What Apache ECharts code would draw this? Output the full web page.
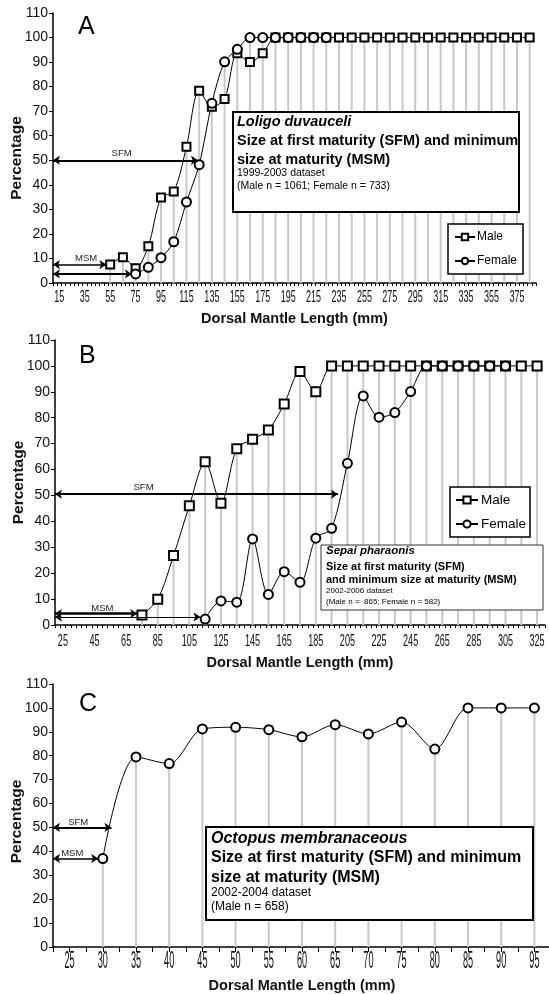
<!DOCTYPE html>
<html>
<head>
<meta charset="utf-8">
<script src="https://cdn.jsdelivr.net/npm/echarts@6/dist/echarts.min.js"></script>
<style>
  html, body { margin: 0; padding: 0; background: #fff; }
  #chart { width: 549px; height: 994px; }
</style>
</head>
<body>
<div id="chart"></div>
<script>
var FONT = "'Liberation Sans', Arial, sans-serif";

// A - Loligo duvauceli (DML mm, % mature)
var aLengths = [55, 65, 75, 85, 95, 105, 115, 125, 135, 145, 155, 165, 175, 185, 195, 205, 215, 225, 235, 245,
  255, 265, 275, 285, 295, 305, 315, 325, 335, 345, 355, 365, 375, 385];
var aMale = [7.5, 10.5, 6, 15, 34.8, 37.3, 55.5, 78.3, 71.8, 75, 93.6, 90, 93.6, 100, 100, 100, 100, 100, 100, 100,
  100, 100, 100, 100, 100, 100, 100, 100, 100, 100, 100, 100, 100, 100];
var aFemale = [null, null, 3.7, 6.4, 10.3, 16.8, 33, 48.2, 73.2, 90.1, 95.2, 100, 100, 100, 100, 100, 100, 100, null, null,
  null, null, null, null, null, null, null, null, null, null, null, null, null, null];
var aTicks = [15, 35, 55, 75, 95, 115, 135, 155, 175, 195, 215, 235, 255, 275, 295, 315, 335, 355, 375];

// B - Sepia pharaonis
var bLengths = [75, 85, 95, 105, 115, 125, 135, 145, 155, 165, 175, 185, 195, 205, 215, 225, 235, 245, 255, 265,
  275, 285, 295, 305, 315, 325];
var bMale = [3.9, 9.9, 26.8, 46, 63, 47, 68, 71.7, 75.3, 85.3, 97.8, 90, 100, 100, 100, 100, 100, 100, 100, 100,
  100, 100, 100, 100, 100, 100];
var bFemale = [null, null, null, null, 2.3, 9.3, 8.8, 33.2, 11.8, 20.6, 16.5, 33.5, 37.3, 62.4, 88.4, 80.2, 82, 90.1, 100, 100,
  100, 100, 100, 100, null, null];
var bTicks = [25, 45, 65, 85, 105, 125, 145, 165, 185, 205, 225, 245, 265, 285, 305, 325];

// C - Octopus membranaceous (males only)
var cLengths = [30, 35, 40, 45, 50, 55, 60, 65, 70, 75, 80, 85, 90, 95];
var cMale = [37, 79.5, 76.7, 91.2, 91.9, 90.9, 87.9, 93, 89.1, 94.1, 82.8, 100, 100, 100];
var cTicks = [25, 30, 35, 40, 45, 50, 55, 60, 65, 70, 75, 80, 85, 90, 95];

// SFM / MSM arrows: [y, x end, width] ; labels: [x, y, text]
var aArrows = [[50, 124, 2], [7.5, 52, 1.5], [3.7, 72, 2]];
var aNotes = [[64, 52.8, 'SFM'], [36, 10, 'MSM']];
var bArrows = [[50.5, 199, 2], [4.4, 72, 2.5], [3.1, 112, 1.2]];
var bNotes = [[76, 53, 'SFM'], [50, 6.6, 'MSM']];
var cArrows = [[50, 31.3, 2], [37, 29.3, 1.5]];
var cNotes = [[26.3, 52, 'SFM'], [25.4, 39.2, 'MSM']];

var chart = echarts.init(document.getElementById('chart'));

function pairs(xs, ys) {
  return xs.map(function (x, i) { return [x, ys[i]]; }).filter(function (p) { return p[1] != null; });
}
function drops(xs, a, b) {
  return xs.map(function (x, i) { return [x, Math.max(a[i] || 0, b ? (b[i] || 0) : 0)]; });
}

function dropSeries(idx, data) {
  return { type: 'bar', xAxisIndex: idx, yAxisIndex: idx, data: data, barWidth: 2, silent: true, z: 1,
    itemStyle: { color: '#c8c8c8' } };
}

function lineSeries(idx, name, symbol, size, data, arrows, notes, xmin) {
  var s = { type: 'line', name: name, xAxisIndex: idx, yAxisIndex: idx, data: data, smooth: 0.3,
    symbol: symbol, symbolSize: size, z: 3,
    itemStyle: { color: '#000', borderColor: '#000', borderWidth: 1.1 },
    lineStyle: { color: '#000', width: 1 } };
  if (arrows) {
    s.markLine = { silent: true, symbol: ['arrow', 'arrow'], symbolSize: 7, label: { show: false },
      lineStyle: { color: '#000', type: 'solid', width: 2 },
      data: arrows.map(function (r) {
        return [{ coord: [xmin, r[0]], lineStyle: { width: r[2] } }, { coord: [r[1], r[0]], lineStyle: { width: r[2] } }];
      }) };
    s.markPoint = { silent: true, symbol: 'circle', symbolSize: 1, itemStyle: { color: 'rgba(0,0,0,0)' },
      label: { show: true, position: 'inside', fontSize: 9.5, fontFamily: FONT, color: '#222',
        formatter: function (p) { return p.name; } },
      data: notes.map(function (n) { return { name: n[2], coord: [n[0], n[1]] }; }) };
  }
  return s;
}

function tickLabels(idx, ticks, size, sx, dy) {
  return { type: 'custom', xAxisIndex: idx, yAxisIndex: idx, silent: true, clip: false, z: 5,
    data: ticks.map(function (t) { return [t, 0]; }),
    renderItem: function (params, api) {
      var p = api.coord([api.value(0), 0]);
      return { type: 'text', x: p[0], y: p[1] + dy, scaleX: sx,
        style: { text: String(api.value(0)), fontSize: size, fontFamily: FONT, fill: '#111',
          align: 'center', verticalAlign: 'middle' } };
    } };
}

function xAxis(idx, min, max, interval, split, gap) {
  return { type: 'value', gridIndex: idx, min: min, max: max, interval: interval,
    axisLine: { lineStyle: { color: '#000', width: 1.5 } },
    axisTick: { length: split ? 3 : 5, lineStyle: { color: '#000', width: 1 } },
    minorTick: { show: !!split, splitNumber: split || 1, length: 3, lineStyle: { color: '#000', width: 1 } },
    axisLabel: { show: false }, splitLine: { show: false },
    name: 'Dorsal Mantle Length (mm)', nameLocation: 'middle', nameGap: gap, nameMoveOverlap: false,
    nameTextStyle: { fontSize: 14.5, fontWeight: 'bold', fontFamily: FONT, color: '#111' } };
}

function yAxis(idx, pad) {
  return { type: 'value', gridIndex: idx, min: 0, max: 110, interval: 10,
    axisLine: { show: true, lineStyle: { color: '#000', width: 1.5 } },
    axisTick: { show: true, length: 4, lineStyle: { color: '#000', width: 1 } },
    axisLabel: { fontSize: 14, fontFamily: FONT, color: '#111', margin: 5 },
    splitLine: { show: false },
    name: 'Percentage', nameLocation: 'middle', nameGap: 28, nameMoveOverlap: false,
    nameTextStyle: { fontSize: 15.5, fontWeight: 'bold', fontFamily: FONT, color: '#111', padding: pad } };
}

function txt(x, y, text, size, weight, style) {
  return { type: 'text', x: x, y: y, z: 101,
    style: { text: text, fontSize: size, fontWeight: weight || 'normal', fontStyle: style || 'normal',
      fontFamily: FONT, fill: '#000', verticalAlign: 'middle' } };
}
function box(x, y, w, h, lw, col) {
  return { type: 'rect', z: 100, shape: { x: x, y: y, width: w, height: h },
    style: { fill: '#fff', stroke: col, lineWidth: lw } };
}

var legendBase = { data: ['Male', 'Female'], orient: 'vertical', selectedMode: false, z: 10,
  backgroundColor: '#fff', borderColor: '#000' };

var option = {
  animation: false,
  backgroundColor: '#fff',
  grid: [
    { left: 53, right: 13, top: 13, bottom: 711, containLabel: false, outerBoundsMode: 'none' },
    { left: 55, right: 4, top: 340, bottom: 369, containLabel: false, outerBoundsMode: 'none' },
    { left: 53, right: -2, top: 684, bottom: 47, containLabel: false, outerBoundsMode: 'none' }
  ],
  xAxis: [
    xAxis(0, 10, 390, 10, 3, 28),
    xAxis(1, 20, 330, 10, 3, 30),
    xAxis(2, 22.5, 97.5, 2.5, 0, 31)
  ],
  yAxis: [yAxis(0, [0, 20, 0, 0]), yAxis(1, 0), yAxis(2, [0, 12, 0, 0])],
  legend: [
    Object.assign({}, legendBase, { left: 448, top: 224, borderWidth: 1.5, padding: [7, 6, 7, 6],
      itemWidth: 20, itemHeight: 8, itemGap: 12,
      textStyle: { fontSize: 12, fontFamily: FONT, color: '#000', padding: [0, 0, 0, -3] } }),
    Object.assign({}, legendBase, { left: 450, top: 487, borderWidth: 1.5, padding: [6, 4, 6, 5],
      itemWidth: 22, itemHeight: 9, itemGap: 10,
      textStyle: { fontSize: 13.5, fontFamily: FONT, color: '#000', padding: [0, 0, 0, -2] } })
  ],
  series: [
    dropSeries(0, drops(aLengths, aMale, aFemale)),
    lineSeries(0, 'Male', 'emptyRect', 8, pairs(aLengths, aMale), aArrows, aNotes, 10),
    lineSeries(0, 'Female', 'emptyCircle', 9, pairs(aLengths, aFemale)),
    tickLabels(0, aTicks, 17, 0.53, 14),

    dropSeries(1, drops(bLengths, bMale, bFemale)),
    lineSeries(1, 'Male', 'emptyRect', 9, pairs(bLengths, bMale), bArrows, bNotes, 20),
    lineSeries(1, 'Female', 'emptyCircle', 9, pairs(bLengths, bFemale)),
    tickLabels(1, bTicks, 16.5, 0.55, 16),

    dropSeries(2, drops(cLengths, cMale)),
    lineSeries(2, 'Octopus', 'emptyCircle', 9, pairs(cLengths, cMale), cArrows, cNotes, 22.5),
    tickLabels(2, cTicks, 23.5, 0.39, 14.5)
  ],
  graphic: [
    txt(78, 27, 'A', 25), txt(79, 356, 'B', 25), txt(79, 704, 'C', 25),

    box(233, 112, 286, 100, 2, '#000'),
    txt(237, 122, 'Loligo duvauceli', 14.5, 'bold', 'italic'),
    txt(237, 141, 'Size at first maturity (SFM) and minimum', 14.5, 'bold'),
    txt(237, 160, 'size at maturity (MSM)', 14.5, 'bold'),
    txt(237, 173, '1999-2003 dataset', 10.5),
    txt(237, 186, '(Male n = 1061; Female n = 733)', 10.5),

    box(321, 545, 222, 65, 1, '#333'),
    txt(326, 551, 'Sepai pharaonis', 11.5, 'bold', 'italic'),
    txt(326, 567, 'Size at first maturity (SFM)', 11, 'bold'),
    txt(326, 580, 'and minimum size at maturity (MSM)', 11, 'bold'),
    txt(326, 591, '2002-2006 dataset', 8),
    txt(326, 602, '(Male n =  865; Female n = 582)', 8),

    box(206, 827, 327, 93, 2, '#000'),
    txt(211, 839, 'Octopus membranaceous', 16, 'bold', 'italic'),
    txt(211, 858, 'Size at first maturity (SFM) and minimum', 16, 'bold'),
    txt(211, 878, 'size at maturity (MSM)', 16, 'bold'),
    txt(211, 893, '2002-2004 dataset', 12),
    txt(211, 907, '(Male n = 658)', 12)
  ]
};

chart.setOption(option);
window.addEventListener('resize', function () { chart.resize(); });
</script>
</body>
</html>
